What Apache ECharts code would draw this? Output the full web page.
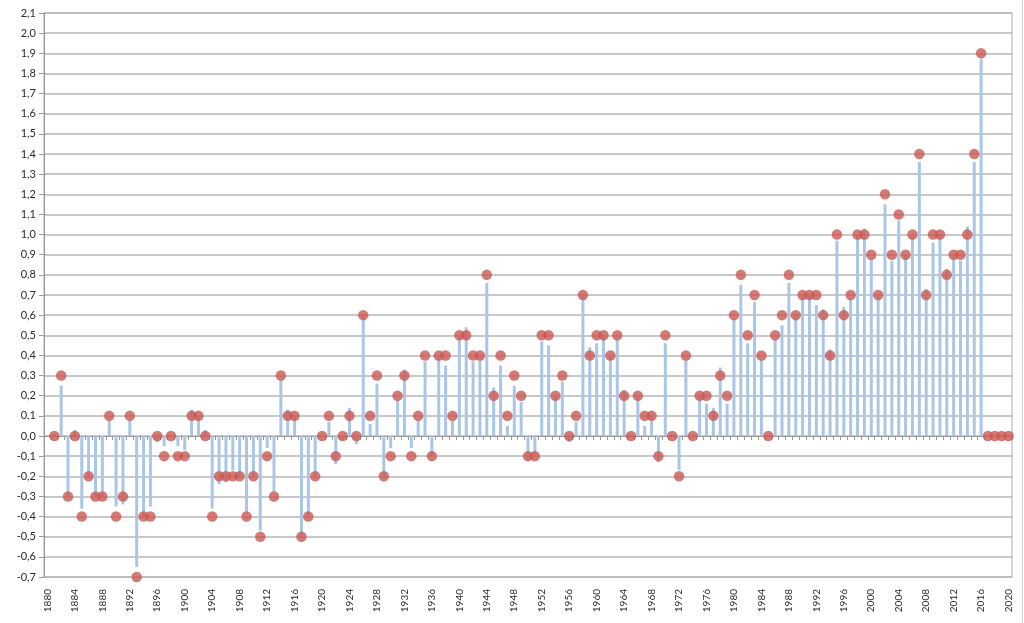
<!DOCTYPE html>
<html>
<head>
<meta charset="utf-8">
<script src="https://cdn.jsdelivr.net/npm/echarts@6/dist/echarts.min.js"></script>
<style>
html,body{margin:0;padding:0;background:#fff;}
#c{width:1024px;height:623px;}
</style>
</head>
<body>
<div id="c"></div>
<script>
// Years 1880..2020
const years = [];
for (let y = 1880; y <= 2020; y++) years.push(String(y));

// Rounded values (red dots), 1880..2020
const dotValues = [
  null, 0.0, 0.3, -0.3, 0.0, -0.4, -0.2, -0.3, -0.3, 0.1,      // 1880-1889
  -0.4, -0.3, 0.1, -0.7, -0.4, -0.4, 0.0, -0.1, 0.0, -0.1,     // 1890-1899
  -0.1, 0.1, 0.1, 0.0, -0.4, -0.2, -0.2, -0.2, -0.2, -0.4,     // 1900-1909
  -0.2, -0.5, -0.1, -0.3, 0.3, 0.1, 0.1, -0.5, -0.4, -0.2,     // 1910-1919
  0.0, 0.1, -0.1, 0.0, 0.1, 0.0, 0.6, 0.1, 0.3, -0.2,          // 1920-1929
  -0.1, 0.2, 0.3, -0.1, 0.1, 0.4, -0.1, 0.4, 0.4, 0.1,         // 1930-1939
  0.5, 0.5, 0.4, 0.4, 0.8, 0.2, 0.4, 0.1, 0.3, 0.2,            // 1940-1949
  -0.1, -0.1, 0.5, 0.5, 0.2, 0.3, 0.0, 0.1, 0.7, 0.4,          // 1950-1959
  0.5, 0.5, 0.4, 0.5, 0.2, 0.0, 0.2, 0.1, 0.1, -0.1,           // 1960-1969
  0.5, 0.0, -0.2, 0.4, 0.0, 0.2, 0.2, 0.1, 0.3, 0.2,           // 1970-1979
  0.6, 0.8, 0.5, 0.7, 0.4, 0.0, 0.5, 0.6, 0.8, 0.6,            // 1980-1989
  0.7, 0.7, 0.7, 0.6, 0.4, 1.0, 0.6, 0.7, 1.0, 1.0,            // 1990-1999
  0.9, 0.7, 1.2, 0.9, 1.1, 0.9, 1.0, 1.4, 0.7, 1.0,            // 2000-2009
  1.0, 0.8, 0.9, 0.9, 1.0, 1.4, 1.9, 0.0, 0.0, 0.0,            // 2010-2019
  0.0                                                          // 2020
];

// Unrounded values (blue bars), 1880..2020
const barValues = [
  null, 0.01, 0.25, -0.3, 0.03, -0.36, -0.2, -0.3, -0.3, 0.08,
  -0.35, -0.34, 0.08, -0.65, -0.4, -0.35, -0.03, -0.05, 0.0, -0.05,
  -0.07, 0.13, 0.1, 0.03, -0.36, -0.24, -0.23, -0.17, -0.2, -0.38,
  -0.2, -0.47, -0.06, -0.28, 0.28, 0.13, 0.1, -0.5, -0.4, -0.2,
  0.0, 0.07, -0.14, -0.02, 0.14, -0.04, 0.6, 0.06, 0.26, -0.2,
  -0.06, 0.18, 0.33, -0.06, 0.08, 0.37, -0.1, 0.4, 0.35, 0.08,
  0.5, 0.54, 0.37, 0.4, 0.76, 0.24, 0.35, 0.05, 0.25, 0.17,
  -0.12, -0.1, 0.47, 0.45, 0.2, 0.27, -0.03, 0.07, 0.7, 0.44,
  0.46, 0.49, 0.4, 0.48, 0.23, 0.0, 0.2, 0.05, 0.1, -0.13,
  0.46, 0.0, -0.17, 0.38, 0.0, 0.2, 0.16, 0.14, 0.34, 0.16,
  0.58, 0.75, 0.46, 0.665, 0.38, 0.0, 0.48, 0.55, 0.76, 0.6,
  0.7, 0.7, 0.65, 0.63, 0.43, 0.97, 0.64, 0.68, 1.0, 1.03,
  0.88, 0.7, 1.15, 0.87, 1.07, 0.9, 1.0, 1.36, 0.73, 0.96,
  1.0, 0.83, 0.9, 0.87, 1.04, 1.36, 1.87, null, null, null,
  null
];

const yMin = -0.7, yMax = 2.1, yStep = 0.1;

const chart = echarts.init(document.getElementById('c'), null, {renderer: 'canvas'});
const fontFam = 'Lato, "Open Sans", "Liberation Sans", sans-serif';
chart.setOption({
  animation: false,
  backgroundColor: '#ffffff',
  grid: {
    left: 44, right: 12, top: 13, bottom: 46,
    show: true, borderColor: '#a8a8a8', borderWidth: 1, backgroundColor: 'transparent'
  },
  graphic: [{
    type: 'line', shape: {x1: 1022.5, y1: 0, x2: 1022.5, y2: 623},
    style: {stroke: '#d4d4d4', lineWidth: 1}
  }],
  xAxis: [{
    type: 'category', data: years, boundaryGap: true,
    axisLine: {onZero: true, lineStyle: {color: '#9a9a9a', width: 1}},
    axisTick: {show: true, interval: 0, length: 4, lineStyle: {color: '#9a9a9a'}},
    axisLabel: {show: false},
    splitLine: {show: false}
  }, {
    type: 'category', data: years, boundaryGap: true, position: 'bottom',
    axisLine: {show: false, onZero: false},
    axisTick: {show: false},
    axisLabel: {
      show: true, interval: 3, rotate: 90, margin: 12,
      color: '#2a2a2a', fontSize: 10, fontFamily: fontFam
    },
    splitLine: {show: false}
  }],
  yAxis: {
    type: 'value', min: yMin, max: yMax, interval: yStep,
    axisLine: {show: true, lineStyle: {color: '#9a9a9a'}},
    axisTick: {show: true, length: 5, lineStyle: {color: '#9a9a9a'}},
    axisLabel: {
      color: '#2a2a2a', fontSize: 11, fontFamily: fontFam, margin: 8,
      formatter: v => (Math.round(v * 10) / 10).toFixed(1).replace('.', ',')
    },
    splitLine: {show: true, lineStyle: {color: '#b6b6b6', width: 1.5}}
  },
  series: [{
    type: 'bar', xAxisIndex: 0, data: barValues, barWidth: 3,
    itemStyle: {color: '#aac6e6'}, z: 2
  }, {
    type: 'scatter', xAxisIndex: 0, data: dotValues, symbol: 'circle', symbolSize: 10.5,
    itemStyle: {color: '#cb5751'}, z: 3
  }]
});
</script>
</body>
</html>
